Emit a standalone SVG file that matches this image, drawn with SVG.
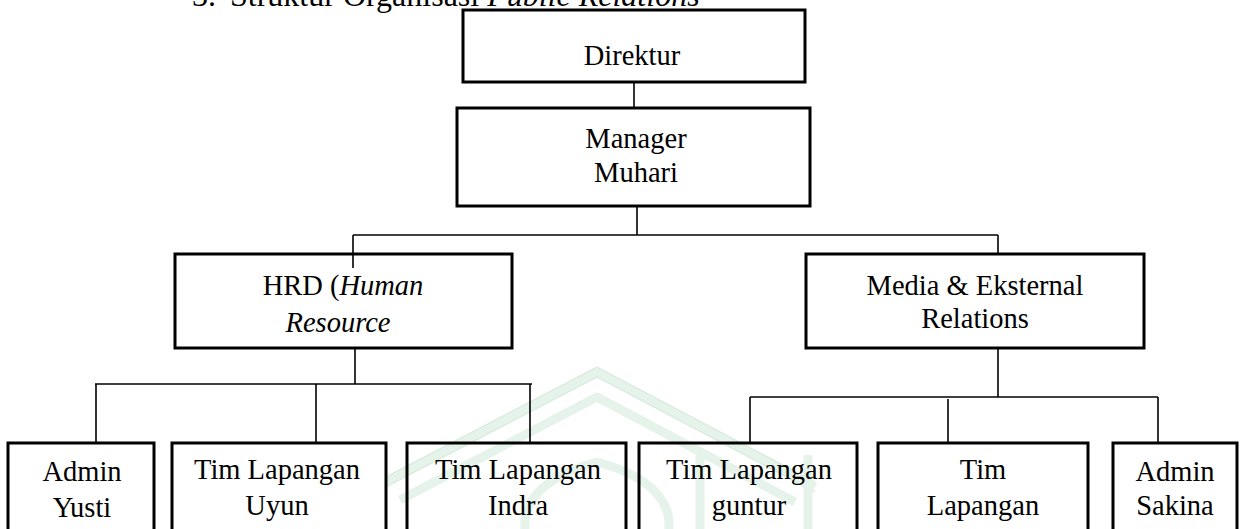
<svg xmlns="http://www.w3.org/2000/svg" width="1243" height="529" viewBox="0 0 1243 529">
<style>
  .box{fill:#fff;stroke:#000;stroke-width:3}
  .t{font-family:"Liberation Serif","Times New Roman",serif;font-size:28.5px;fill:#000;text-anchor:middle}
  .title{font-family:"Liberation Serif","Times New Roman",serif;font-size:32px;fill:#000}
  .c{fill:none;stroke:#000;stroke-width:1.6}
  .wm{fill:none;stroke:#e6f3ea;stroke-width:9;stroke-linejoin:round}
  .wme{fill:none;stroke:#d5eadb;stroke-width:1.2;stroke-linejoin:round}
</style>
<rect width="1243" height="529" fill="#fff"/>
<g id="watermark">
  <polyline class="wm" points="380,485 597,372 815,487"/>
  <polyline class="wme" points="380,480 597,367 815,482"/>
  <polyline class="wme" points="380,490 597,377 815,492"/>
  <polyline class="wm" points="400,500 597,397 795,502"/>
  <path class="wm" d="M525,529 L525,520 Q530,480 597,462 Q664,480 669,520 L669,529"/>
  <line class="wm" x1="700" y1="455" x2="700" y2="529"/>
  <line class="wm" x1="808" y1="455" x2="808" y2="529"/>
</g>
<text class="title" x="192" y="6">3.<tspan x="230">Struktur Organisasi </tspan><tspan font-style="italic">Public Relations</tspan></text>
<g id="connectors">
  <line class="c" x1="634" y1="82" x2="634" y2="108"/>
  <line class="c" x1="637" y1="206" x2="637" y2="235"/>
  <line class="c" x1="353" y1="235" x2="998" y2="235"/>
  <line class="c" x1="353" y1="235" x2="353" y2="268"/>
  <line class="c" x1="998" y1="235" x2="998" y2="254"/>
  <line class="c" x1="355" y1="348" x2="355" y2="384"/>
  <line class="c" x1="95" y1="384" x2="532" y2="384"/>
  <line class="c" x1="96" y1="384" x2="96" y2="443"/>
  <line class="c" x1="316" y1="384" x2="316" y2="443"/>
  <line class="c" x1="530" y1="384" x2="530" y2="443"/>
  <line class="c" x1="998" y1="348" x2="998" y2="397"/>
  <line class="c" x1="750" y1="397" x2="1158" y2="397"/>
  <line class="c" x1="750" y1="397" x2="750" y2="443"/>
  <line class="c" x1="948" y1="399" x2="948" y2="443"/>
  <line class="c" x1="1158" y1="397" x2="1158" y2="443"/>
</g>
<g id="direktur">
  <rect class="box" x="463" y="10" width="342" height="72"/>
  <text class="t" x="632" y="65">Direktur</text>
</g>
<g id="manager">
  <rect class="box" x="457" y="108" width="353" height="98"/>
  <text class="t" x="636" y="148">Manager</text>
  <text class="t" x="636" y="182">Muhari</text>
</g>
<g id="hrd">
  <rect class="box" x="175" y="254" width="337" height="94" style="fill:none"/>
  <text class="t" x="343" y="295">HRD (<tspan font-style="italic">Human</tspan></text>
  <text class="t" x="338" y="332" font-style="italic">Resource</text>
</g>
<g id="media">
  <rect class="box" x="806" y="254" width="338" height="94"/>
  <text class="t" x="975" y="295">Media &amp; Eksternal</text>
  <text class="t" x="975" y="328">Relations</text>
</g>
<g id="admin-yusti">
  <rect class="box" x="8" y="443" width="146" height="100"/>
  <text class="t" x="82" y="481">Admin</text>
  <text class="t" x="82" y="517">Yusti</text>
</g>
<g id="tim-uyun">
  <rect class="box" x="172" y="443" width="214" height="100"/>
  <text class="t" x="277" y="479">Tim Lapangan</text>
  <text class="t" x="277" y="515">Uyun</text>
</g>
<g id="tim-indra">
  <rect class="box" x="407" y="443" width="219" height="100" style="fill:none"/>
  <text class="t" x="518" y="479">Tim Lapangan</text>
  <text class="t" x="518" y="515">Indra</text>
</g>
<g id="tim-guntur">
  <rect class="box" x="639" y="443" width="218" height="100" style="fill:none"/>
  <text class="t" x="749" y="479">Tim Lapangan</text>
  <text class="t" x="749" y="515">guntur</text>
</g>
<g id="tim-lapangan">
  <rect class="box" x="878" y="443" width="210" height="100"/>
  <text class="t" x="983" y="479">Tim</text>
  <text class="t" x="983" y="515">Lapangan</text>
</g>
<g id="admin-sakina">
  <rect class="box" x="1113" y="443" width="124" height="100"/>
  <text class="t" x="1175" y="481">Admin</text>
  <text class="t" x="1175" y="515">Sakina</text>
</g>
</svg>
